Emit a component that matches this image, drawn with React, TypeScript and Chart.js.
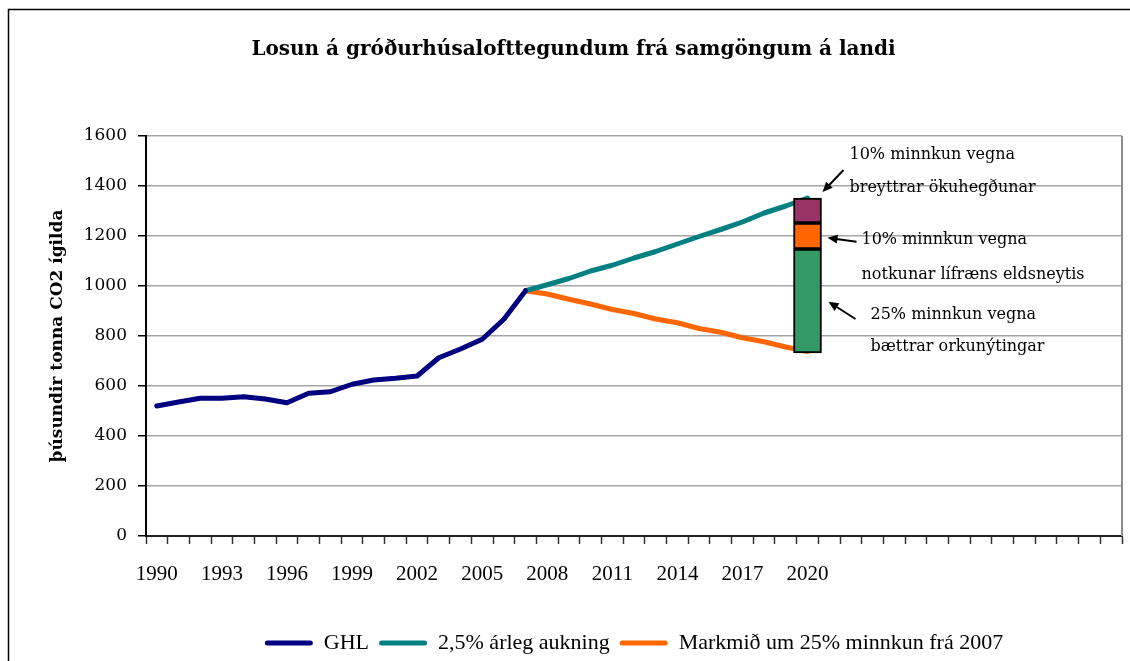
import React, { useEffect, useRef } from 'react';
import { Chart, registerables } from 'chart.js';

Chart.register(...registerables);

// ---------- data ----------
const years = [
  '1990', '1991', '1992', '1993', '1994', '1995', '1996', '1997', '1998', '1999',
  '2000', '2001', '2002', '2003', '2004', '2005', '2006', '2007', '2008', '2009',
  '2010', '2011', '2012', '2013', '2014', '2015', '2016', '2017', '2018', '2019',
  '2020', '2021', '2022', '2023', '2024', '2025', '2026', '2027', '2028', '2029',
  '2030', '2031', '2032', '2033', '2034',
];
const tickLabels = ['1990', '1993', '1996', '1999', '2002', '2005', '2008', '2011', '2014', '2017', '2020'];

const ghlYears = [
  '1990', '1991', '1992', '1993', '1994', '1995', '1996', '1997', '1998',
  '1999', '2000', '2001', '2002', '2003', '2004', '2005', '2006', '2007',
];
const ghlValues = [520, 536, 551, 551, 557, 548, 533, 571, 577, 607, 624, 631, 640, 713, 748, 787, 867, 981];

const scenarioYears = [
  '2007', '2008', '2009', '2010', '2011', '2012', '2013',
  '2014', '2015', '2016', '2017', '2018', '2019', '2020',
];
const growthValues = [981, 1005, 1030, 1060, 1083, 1112, 1138, 1168, 1198, 1226, 1256, 1292, 1320, 1352];
const targetValues = [981, 968, 947, 928, 906, 890, 868, 853, 830, 815, 793, 777, 756, 738];

const barYear = '2020';
const efficiencySegment = [732, 1148];
const biofuelSegment = [1148, 1252];
const behaviourSegment = [1252, 1352];

const seriesNames = ['GHL', '2,5% árleg aukning', 'Markmið um 25% minnkun frá 2007'];
const segmentNames = ['25% minnkun vegna bættrar orkunýtingar', '10% minnkun vegna notkunar lífræns eldsneytis', '10% minnkun vegna breyttrar ökuhegðunar'];

const titleText = 'Losun á gróðurhúsalofttegundum frá samgöngum á landi';
const yTitleText = 'þúsundir tonna CO2 ígilda';

const noteTexts = [
  '10% minnkun vegna',
  'breyttrar ökuhegðunar',
  '10% minnkun vegna',
  'notkunar lífræns eldsneytis',
  '25% minnkun vegna',
  'bættrar orkunýtingar',
];
// anchor value (y axis units) for each note line
const noteValues = [1524, 1392, 1184, 1044, 884, 756];

// ---------- layout / style (not data) ----------
const noteDx = [28, 28, 40, 40, 49, 49]; // px from bar right edge
const arrowSpecs = [
  { tailDx: 22, tailV: 1464, tipDx: 1, tipV: 1376 },
  { tailDx: 35, tailV: 1177, tipDx: 6, tipV: 1193 },
  { tailDx: 34, tailV: 868, tipDx: 7, tipV: 937 },
];

const toPoints = (xs: string[], vs: number[]) => vs.map((v, i) => ({ x: xs[i], y: v }));

function drawArrow(ctx: CanvasRenderingContext2D, x1: number, y1: number, x2: number, y2: number) {
  const ang = Math.atan2(y2 - y1, x2 - x1);
  const len = 10;
  const hw = 4.5;
  const c = Math.cos(ang);
  const s = Math.sin(ang);
  ctx.beginPath();
  ctx.moveTo(x1, y1);
  ctx.lineTo(x2 - c * len * 0.7, y2 - s * len * 0.7);
  ctx.stroke();
  ctx.beginPath();
  ctx.moveTo(x2, y2);
  ctx.lineTo(x2 - len * c + hw * s, y2 - len * s - hw * c);
  ctx.lineTo(x2 - len * c - hw * s, y2 - len * s + hw * c);
  ctx.closePath();
  ctx.fill();
}

const decorPlugin = {
  id: 'decor',
  beforeDraw(chart: any) {
    const { ctx, width, height } = chart;
    ctx.save();
    ctx.fillStyle = '#ffffff';
    ctx.fillRect(0, 0, width, height);
    ctx.restore();
  },
  afterDraw(chart: any) {
    const { ctx, chartArea, scales } = chart;
    const y = scales.y;
    ctx.save();
    // plot area right border
    ctx.strokeStyle = '#8c8c8c';
    ctx.lineWidth = 2;
    ctx.beginPath();
    ctx.moveTo(chartArea.right, chartArea.top);
    ctx.lineTo(chartArea.right, chartArea.bottom);
    ctx.stroke();

    // outer frame (top/left visible)
    ctx.strokeStyle = '#000';
    ctx.lineWidth = 1.5;
    ctx.beginPath();
    ctx.moveTo(8.5, chart.height + 5);
    ctx.lineTo(8.5, 9.5);
    ctx.lineTo(chart.width + 5, 9.5);
    ctx.stroke();

    // annotations
    const meta = chart.getDatasetMeta(5);
    const bar = meta.data[0];
    if (bar) {
      const right = bar.x + bar.width / 2;
      ctx.fillStyle = '#000';
      ctx.font = '16px "DejaVu Serif"';
      ctx.textAlign = 'left';
      ctx.textBaseline = 'middle';
      noteTexts.forEach((t, i) => {
        ctx.fillText(t, right + noteDx[i], y.getPixelForValue(noteValues[i]));
      });
      ctx.strokeStyle = '#000';
      ctx.lineWidth = 2;
      arrowSpecs.forEach((a) => {
        drawArrow(ctx, right + a.tailDx, y.getPixelForValue(a.tailV), right + a.tipDx, y.getPixelForValue(a.tipV));
      });
    }
    ctx.restore();
  },
};

export default function App() {
  const ref = useRef<HTMLCanvasElement>(null);

  useEffect(() => {
    if (!ref.current) return;
    const lineCommon = {
      type: 'line' as const,
      pointRadius: 0,
      borderWidth: 5,
      tension: 0,
      borderJoinStyle: 'round' as const,
      borderCapStyle: 'round' as const,
      order: 2,
      fill: false,
    };
    const barCommon = {
      type: 'bar' as const,
      grouped: false,
      barThickness: 28,
      borderColor: '#000',
      borderWidth: 2,
      borderSkipped: false,
      order: 1,
    };
    const chart = new Chart(ref.current, {
      type: 'line',
      data: {
        labels: years,
        datasets: [
          { ...lineCommon, label: seriesNames[0], data: toPoints(ghlYears, ghlValues), borderColor: '#000080', backgroundColor: '#000080' },
          { ...lineCommon, label: seriesNames[1], data: toPoints(scenarioYears, growthValues), borderColor: '#008080', backgroundColor: '#008080' },
          { ...lineCommon, label: seriesNames[2], data: toPoints(scenarioYears, targetValues), borderColor: '#FF6600', backgroundColor: '#FF6600' },
          { ...barCommon, label: segmentNames[0], data: [{ x: barYear, y: efficiencySegment }], backgroundColor: '#339966' },
          { ...barCommon, label: segmentNames[1], data: [{ x: barYear, y: biofuelSegment }], backgroundColor: '#FF6600' },
          { ...barCommon, label: segmentNames[2], data: [{ x: barYear, y: behaviourSegment }], backgroundColor: '#993366' },
        ] as any,
      },
      options: {
        responsive: false,
        maintainAspectRatio: false,
        animation: false,
        layout: { padding: { left: 25, right: 8, top: 0, bottom: 0 } },
        plugins: {
          tooltip: { enabled: false },
          title: {
            display: true,
            text: titleText,
            color: '#000',
            font: { family: '"DejaVu Serif"', size: 20, weight: 'bold' },
            padding: { top: 38, bottom: 74 },
          },
          legend: {
            display: true,
            position: 'bottom',
            fullSize: false,
            maxHeight: 39,
            labels: {
              color: '#000',
              font: { family: '"Liberation Serif"', size: 22 },
              boxWidth: 48,
              boxHeight: 5,
              padding: 10,
              generateLabels: (c: any) => {
                const items = (Chart.defaults.plugins.legend.labels as any).generateLabels(c);
                return items
                  .filter((it: any) => it.datasetIndex < 3)
                  .map((it: any) => ({ ...it, fillStyle: it.strokeStyle, lineWidth: 0, borderRadius: 2.5 }));
              },
            },
          },
        },
        scales: {
          x: {
            type: 'category',
            offset: true,
            grid: {
              offset: true,
              drawOnChartArea: false,
              drawTicks: true,
              tickLength: 8,
              tickColor: '#333',
              tickWidth: 1.5,
            },
            border: { color: '#222', width: 2 },
            ticks: {
              autoSkip: false,
              maxRotation: 0,
              minRotation: 0,
              padding: 18,
              color: '#000',
              font: { family: '"Liberation Serif"', size: 21 },
              callback: (_v: any, i: number) => (tickLabels.includes(years[i]) ? years[i] : ''),
            },
            afterFit: (s: any) => {
              s.height = 86;
            },
          },
          y: {
            min: 0,
            max: 1600,
            ticks: {
              stepSize: 200,
              padding: 11,
              color: '#000',
              font: { family: '"DejaVu Serif"', size: 17 },
              callback: (v: any) => String(v),
            },
            grid: {
              color: '#a6a6a6',
              lineWidth: 1.5,
              tickLength: 8,
              tickColor: '#000',
              tickWidth: 1.5,
            },
            border: { color: '#000', width: 2 },
            title: {
              display: true,
              text: yTitleText,
              color: '#000',
              font: { family: '"DejaVu Serif"', size: 17, weight: 'bold' },
              padding: { top: 22, bottom: 0 },
            },
            afterFit: (s: any) => {
              s.width = 121;
            },
          },
        },
      } as any,
      plugins: [decorPlugin],
    });
    return () => chart.destroy();
  }, []);

  return (
    <canvas
      ref={ref}
      width={1130}
      height={661}
      style={{ position: 'fixed', left: 0, top: 0, width: 1130, height: 661 }}
    />
  );
}
